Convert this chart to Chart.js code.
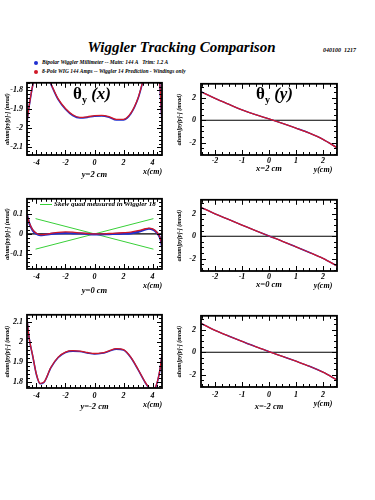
<!DOCTYPE html>
<html>
<head>
<meta charset="utf-8">
<script src="https://cdn.jsdelivr.net/npm/chart.js@4.4.1/dist/chart.umd.min.js"></script>
<style>
  body { margin: 0; background: #fff; }
  #page { position: relative; width: 375px; height: 500px; overflow: hidden; font-family: "Liberation Serif", serif; color: #000; }
  canvas { position: absolute; }
  .txt { position: absolute; white-space: nowrap; font-style: italic; font-weight: bold; line-height: 1; }
  .dot { position: absolute; width: 4px; height: 4px; border-radius: 2px; }
  .theta { position: absolute; white-space: nowrap; font-size: 17px; font-weight: bold; line-height: 1; }
  .theta sub { font-size: 10px; }
</style>
</head>
<body>
<div id="page">
  <div class="txt" style="left:0;width:363px;top:40px;font-size:15px;text-align:center">Wiggler Tracking Comparison</div>
  <div class="txt" style="left:323px;top:47px;font-size:6px">040100&nbsp; 1217</div>

  <div class="dot" style="left:34px;top:61px;background:#1f2fd0"></div>
  <div class="txt" style="left:42px;top:60px;font-size:5.5px">Bipolar Wiggler Millimeter -- Main: 144 A &nbsp; Trim: 1.2 A</div>
  <div class="dot" style="left:34px;top:70px;background:#d01828"></div>
  <div class="txt" style="left:42px;top:69px;font-size:5.5px">8-Pole WIG 144 Amps -- Wiggler 14 Prediction - Windings only</div>

  <canvas id="c1" width="166" height="106" style="left:0;top:74px"></canvas>
  <canvas id="c2" width="170" height="100" style="left:172px;top:74px"></canvas>
  <canvas id="c3" width="166" height="106" style="left:0;top:190px"></canvas>
  <canvas id="c4" width="170" height="100" style="left:172px;top:190px"></canvas>
  <canvas id="c5" width="166" height="106" style="left:0;top:306px"></canvas>
  <canvas id="c6" width="170" height="106" style="left:172px;top:306px"></canvas>

  <div class="theta" style="left:73px;top:85px">&theta;<sub>y</sub> <i>(x)</i></div>
  <div class="theta" style="left:256px;top:85px">&theta;<sub>y</sub> <i>(y)</i></div>

  <div style="position:absolute;left:40px;top:204px;width:12px;height:1px;background:#38d038"></div>
  <div class="txt" style="left:54px;top:201px;font-size:7px">Skew quad measured in Wiggler 18</div>
</div>

<script>
// ! x positions (cm)
const xLeft = [-4.65, -4.6, -4.5, -4.25, -4, -3.75, -3.5, -3, -2.5, -2, -1.5, -1, -0.5, 0,
  0.5, 1, 1.5, 2, 2.5, 3, 3.5, 3.75, 4, 4.25, 4.5, 4.6, 4.65];
const xRight = [-2.5, -2, -1.5, -1, -0.5, 0, 0.5, 1, 1.5, 2, 2.5];

// ! theta_y(x) at y = 2 cm
const y2Pred = [-1.965, -1.935, -1.88, -1.77, -1.70, -1.67, -1.68, -1.765, -1.845, -1.895, -1.928, -1.942, -1.939, -1.933,
  -1.931, -1.938, -1.952, -1.952, -1.92, -1.84, -1.71, -1.675, -1.66, -1.68, -1.77, -1.90, -1.965];
const y2Meas = [-1.968, -1.938, -1.883, -1.772, -1.70, -1.67, -1.68, -1.768, -1.849, -1.899, -1.932, -1.945, -1.942, -1.936,
  -1.934, -1.941, -1.955, -1.955, -1.923, -1.843, -1.712, -1.675, -1.66, -1.68, -1.772, -1.903, -1.968];

// ! theta_y(x) at y = 0 cm
const y0Pred = [0.10, 0.085, 0.058, 0.02, 0.003, -0.004, -0.003, 0.003, 0.008, 0.01, 0.009, 0.005, 0.002, 0.0,
  0.0, 0.002, 0.004, 0.006, 0.009, 0.016, 0.026, 0.029, 0.025, 0.012, -0.015, -0.04, -0.065];
const y0Meas = [0.098, 0.083, 0.055, 0.017, 0.0, -0.006, -0.005, 0.0, 0.003, 0.004, 0.003, 0.002, 0.0, -0.002,
  -0.002, -0.001, 0.0, 0.001, 0.003, 0.01, 0.022, 0.026, 0.022, 0.01, -0.017, -0.042, -0.067];
const skewX = [-4.06, 4.06];
const skewA = [0.077, -0.077];
const skewB = [-0.077, 0.077];

// ! theta_y(x) at y = -2 cm
const ym2Pred = [2.12, 2.08, 2.02, 1.93, 1.84, 1.795, 1.80, 1.875, 1.925, 1.95, 1.957, 1.955, 1.948, 1.943,
  1.946, 1.956, 1.967, 1.962, 1.925, 1.865, 1.80, 1.775, 1.765, 1.785, 1.86, 1.91, 1.94];
const ym2Meas = [2.118, 2.078, 2.018, 1.928, 1.838, 1.793, 1.798, 1.873, 1.923, 1.948, 1.955, 1.953, 1.946, 1.941,
  1.944, 1.954, 1.965, 1.96, 1.923, 1.863, 1.798, 1.773, 1.763, 1.783, 1.858, 1.908, 1.938];

// ! theta_y(y) at x = 2, 0, -2 cm
const x2Pred = [2.52, 1.95, 1.43, 0.93, 0.5, 0.12, -0.28, -0.7, -1.15, -1.7, -2.42];
const x0Pred = [2.56, 2.0, 1.5, 1.0, 0.5, 0.02, -0.45, -0.95, -1.45, -1.98, -2.62];
const xm2Pred = [2.55, 1.95, 1.45, 0.97, 0.5, 0.06, -0.37, -0.8, -1.25, -1.78, -2.44];

const yTitle = 'ahum[py[p]-] (mrad)';

Chart.defaults.color = '#000';
Chart.defaults.font.family = '"Liberation Serif", serif';

function pts(xs, ys) {
  return xs.map((x, i) => ({ x: x, y: ys[i] }));
}

function isMajor(v, major) {
  return Math.abs(v / major - Math.round(v / major)) < 1e-6;
}

// ! box with inward ticks on all four sides
const frameTicks = {
  id: 'frameTicks',
  afterDatasetsDraw(chart, args, opts) {
    const ctx = chart.ctx;
    const a = chart.chartArea;
    const sx = chart.scales.x;
    const sy = chart.scales.y;
    ctx.save();
    ctx.strokeStyle = '#000';
    ctx.lineWidth = 1;
    ctx.beginPath();
    for (let i = Math.ceil(sx.min / opts.xMinor - 1e-9); i * opts.xMinor <= sx.max + 1e-9; i++) {
      const v = i * opts.xMinor;
      const len = isMajor(v, opts.xMajor) ? 5 : 3;
      const px = Math.round(sx.getPixelForValue(v)) + 0.5;
      ctx.moveTo(px, a.bottom); ctx.lineTo(px, a.bottom - len);
      ctx.moveTo(px, a.top); ctx.lineTo(px, a.top + len);
    }
    for (let i = Math.ceil(sy.min / opts.yMinor - 1e-9); i * opts.yMinor <= sy.max + 1e-9; i++) {
      const v = i * opts.yMinor;
      const len = isMajor(v, opts.yMajor) ? 5 : 3;
      const py = Math.round(sy.getPixelForValue(v)) + 0.5;
      ctx.moveTo(a.left, py); ctx.lineTo(a.left + len, py);
      ctx.moveTo(a.right, py); ctx.lineTo(a.right - len, py);
    }
    ctx.stroke();
    ctx.lineWidth = 1.8;
    ctx.strokeRect(a.left, a.top, a.right - a.left, a.bottom - a.top);
    ctx.restore();
  }
};

function line(data, color, width) {
  return {
    data: data, borderColor: color, backgroundColor: color, borderWidth: width,
    showLine: true, pointRadius: 0, fill: false, cubicInterpolationMode: 'monotone'
  };
}

const tickFont = { size: 8, style: 'italic', weight: 'bold' };

function makePanel(id, p) {
  new Chart(id, {
    type: 'scatter',
    data: { datasets: p.datasets },
    options: {
      responsive: false,
      animation: false,
      devicePixelRatio: 1,
      layout: { padding: { top: 3, right: p.right, left: 0, bottom: 0 } },
      plugins: {
        legend: { display: false },
        tooltip: { enabled: false },
        frameTicks: { xMinor: p.xMinor, xMajor: p.xStep, yMinor: p.yMinor, yMajor: p.yStep }
      },
      scales: {
        x: {
          type: 'linear', min: p.xMin, max: p.xMax,
          afterFit: s => { s.height = p.axisH; },
          grid: { display: false, drawTicks: false },
          border: { display: false },
          ticks: {
            stepSize: p.xStep, includeBounds: false, autoSkip: false, maxRotation: 0,
            padding: p.xPad, font: tickFont,
            callback: v => (v === p.unitAt ? [String(v), p.unit] : String(v))
          },
          title: { display: true, text: p.xTitle, padding: 0, font: { size: 8.5, style: 'italic', weight: 'bold' } }
        },
        y: {
          type: 'linear', min: p.yMin, max: p.yMax,
          afterFit: s => { s.width = p.axisW; },
          grid: { display: false, drawTicks: false },
          border: { display: false },
          ticks: {
            stepSize: p.yStep, includeBounds: false, autoSkip: false,
            padding: p.yPad, font: tickFont,
            callback: v => String(Math.round(v * 100) / 100)
          },
          title: { display: true, text: yTitle, padding: { top: 4, bottom: 0 }, font: { size: 6, style: 'italic', weight: 'bold' } }
        }
      }
    },
    plugins: [frameTicks]
  });
}

const red = '#d01828';
const blue = '#1f2fd0';
const green = '#38d038';

const leftBase = { xMin: -4.65, xMax: 4.65, xStep: 2, xMinor: 1 / 3, unitAt: 4, unit: 'x(cm)',
  axisW: 27, right: 4, axisH: 25, xPad: 3, yPad: 4, yStep: 0.1, yMinor: 0.02 };
const rightBase = { xMin: -2.52, xMax: 2.52, xStep: 1, xMinor: 0.25, unitAt: 2, unit: 'y(cm)',
  axisW: 29, right: 5, axisH: 19, xPad: 1, yPad: 5, yMin: -3.1, yMax: 3.25, yStep: 2, yMinor: 0.5 };

makePanel('c1', Object.assign({}, leftBase, {
  yMin: -2.14, yMax: -1.76, xTitle: 'y=2 cm',
  datasets: [line(pts(xLeft, y2Pred), red, 1.3), line(pts(xLeft, y2Meas), blue, 1.6)]
}));

makePanel('c3', Object.assign({}, leftBase, {
  yMin: -0.177, yMax: 0.177, xTitle: 'y=0 cm', axisH: 27,
  datasets: [
    line(pts(xLeft, y0Pred), red, 1.3),
    line(pts(xLeft, y0Meas), blue, 2.2),
    line(pts(skewX, skewA), green, 1),
    line(pts(skewX, skewB), green, 1),
    line(pts([xLeft[0], xLeft[xLeft.length - 1]], [0, 0]), '#000', 1.2)
  ]
}));

makePanel('c5', Object.assign({}, leftBase, {
  yMin: 1.772, yMax: 2.135, xTitle: 'y=-2 cm', axisH: 24,
  datasets: [line(pts(xLeft, ym2Pred), red, 1.3), line(pts(xLeft, ym2Meas), blue, 1.6)]
}));

makePanel('c2', Object.assign({}, rightBase, {
  xTitle: 'x=2 cm',
  datasets: [
    line(pts(xRight, x2Pred), red, 1.3), line(pts(xRight, x2Pred), blue, 1.4),
    line(pts([-2.52, 2.52], [0, 0]), '#000', 1.2)
  ]
}));

makePanel('c4', Object.assign({}, rightBase, {
  xTitle: 'x=0 cm',
  datasets: [
    line(pts(xRight, x0Pred), red, 1.3), line(pts(xRight, x0Pred), blue, 1.4),
    line(pts([-2.52, 2.52], [0, 0]), '#000', 1.2)
  ]
}));

makePanel('c6', Object.assign({}, rightBase, {
  xTitle: 'x=-2 cm', axisH: 25, xPad: 3,
  datasets: [
    line(pts(xRight, xm2Pred), red, 1.3), line(pts(xRight, xm2Pred), blue, 1.4),
    line(pts([-2.52, 2.52], [0, 0]), '#000', 1.2)
  ]
}));
</script>
</body>
</html>
